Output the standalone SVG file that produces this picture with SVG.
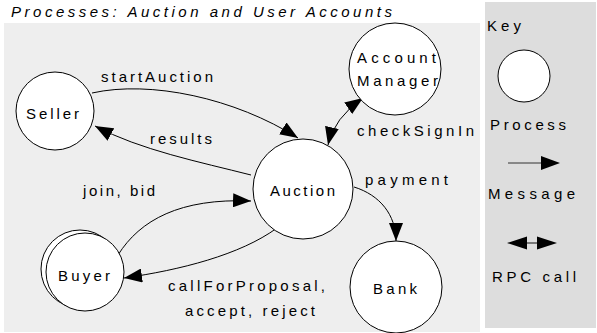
<svg xmlns="http://www.w3.org/2000/svg" width="597" height="333" viewBox="0 0 597 333">
<style>
text{font-family:"Liberation Sans",Arial,sans-serif;font-size:15px;fill:#000}
.title{font-style:italic}
.node{fill:#fff;stroke:#000;stroke-width:1}
.conn{fill:none;stroke:#000;stroke-width:1}
</style>
<defs>
<marker id="ah" viewBox="0 0 18 14" refX="18" refY="7" markerWidth="18" markerHeight="14" markerUnits="userSpaceOnUse" orient="auto-start-reverse">
<path d="M0,0 L18,7 L0,14 Z" fill="#000"/>
</marker>
</defs>
<rect x="4" y="23" width="476" height="309" fill="#eeeeee"/>
<rect x="485" y="2" width="111" height="326" fill="#dddddd"/>
<text class="title" x="11" y="17" textLength="381" lengthAdjust="spacing">Processes: Auction and User Accounts</text>

<g id="connectors">
<path class="conn" d="M92,93 C150,80 235,98 298,138" marker-end="url(#ah)"/>
<path class="conn" d="M251,175 C200,162 140,150 95,126" marker-end="url(#ah)"/>
<path class="conn" d="M118,255 C140,220 180,198 251,201" marker-end="url(#ah)"/>
<path class="conn" d="M277,228 C240,255 180,270 124,278" marker-end="url(#ah)"/>
<path class="conn" d="M354,187 C380,195 396,215 396,241" marker-end="url(#ah)"/>
<path class="conn" d="M328,145 Q334,118 363,98" marker-start="url(#ah)" marker-end="url(#ah)"/>
</g>

<g id="seller">
<circle class="node" cx="55" cy="111" r="39"/>
<text x="26" y="119" textLength="53" lengthAdjust="spacing">Seller</text>
</g>
<g id="auction">
<circle class="node" cx="303" cy="189" r="50"/>
<text x="270" y="196" textLength="65" lengthAdjust="spacing">Auction</text>
</g>
<g id="account-manager">
<circle class="node" cx="395" cy="69" r="46"/>
<text x="357" y="63" textLength="79" lengthAdjust="spacing">Account</text>
<text x="357" y="86" textLength="81" lengthAdjust="spacing">Manager</text>
</g>
<g id="bank">
<circle class="node" cx="396" cy="287" r="46"/>
<text x="373" y="294" textLength="44" lengthAdjust="spacing">Bank</text>
</g>
<g id="buyer">
<circle class="node" cx="80" cy="269" r="39"/>
<circle class="node" cx="85" cy="272" r="39"/>
<text x="58" y="281" textLength="52" lengthAdjust="spacing">Buyer</text>
</g>

<g id="labels">
<text x="101" y="82" textLength="112" lengthAdjust="spacing">startAuction</text>
<text x="150" y="144" textLength="62" lengthAdjust="spacing">results</text>
<text x="357" y="136" textLength="117" lengthAdjust="spacing">checkSignIn</text>
<text x="365" y="185" textLength="83" lengthAdjust="spacing">payment</text>
<text x="83" y="196" textLength="72" lengthAdjust="spacing">join, bid</text>
<text x="168" y="291" textLength="157" lengthAdjust="spacing">callForProposal,</text>
<text x="185" y="316" textLength="130" lengthAdjust="spacing">accept, reject</text>
</g>

<g id="key">
<text x="487" y="31" textLength="34" lengthAdjust="spacing">Key</text>
<circle class="node" cx="524" cy="76" r="26"/>
<text x="490" y="130" textLength="76" lengthAdjust="spacing">Process</text>
<path d="M508,163 L542,163" stroke="#333" stroke-width="1"/>
<path d="M541,156 L560,163 L541,170 Z" fill="#000"/>
<text x="488" y="199" textLength="87" lengthAdjust="spacing">Message</text>
<path d="M525,243 L539,243" stroke="#555" stroke-width="1.5"/>
<path d="M507,243 L527,236.5 L527,249.5 Z" fill="#000"/>
<path d="M557,243 L537,236.5 L537,249.5 Z" fill="#000"/>
<text x="492" y="282" textLength="84" lengthAdjust="spacing">RPC call</text>
</g>
</svg>
